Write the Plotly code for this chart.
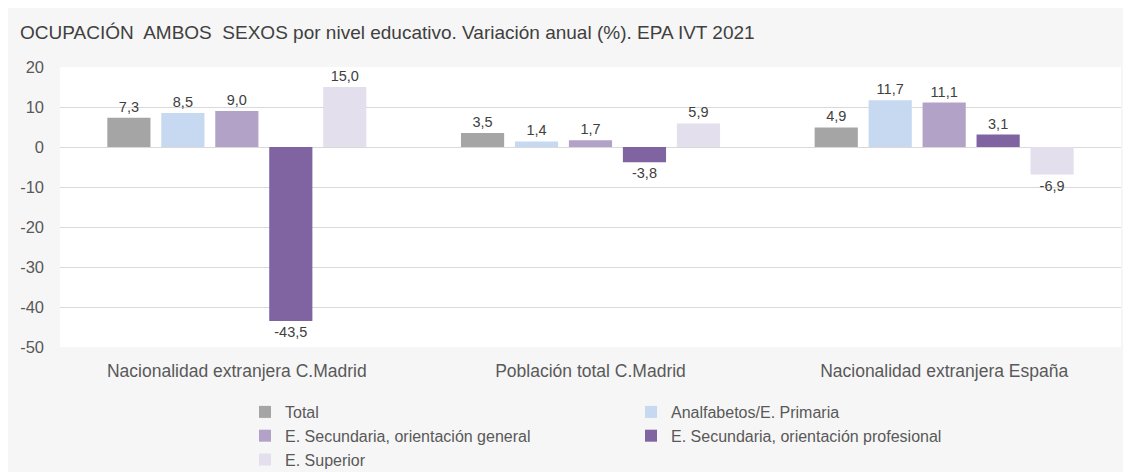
import plotly.graph_objects as go

categories = ["Nacionalidad extranjera C.Madrid", "Población total C.Madrid", "Nacionalidad extranjera España"]
series_names = ["Total", "Analfabetos/E. Primaria", "E. Secundaria, orientación general",
                "E. Secundaria, orientación profesional", "E. Superior"]
total = [7.3, 3.5, 4.9]
analfabetos = [8.5, 1.4, 11.7]
sec_general = [9.0, 1.7, 11.1]
sec_profesional = [-43.5, -3.8, 3.1]
superior = [15.0, 5.9, -6.9]
series_values = [total, analfabetos, sec_general, sec_profesional, superior]
colors = ["#a5a5a5", "#c6d9f1", "#b3a2c7", "#8064a2", "#e4dfec"]
y_tickvals = [20, 10, 0, -10, -20, -30, -40, -50]
y_ticktext = ["20", "10", "0", "-10", "-20", "-30", "-40", "-50"]

# page body has an 8px default margin, so the figure is sized to fill the rest
W, H = 1123, 464
ML, MR, MT, MB = 52, 10, 59, 125
pw = W - ML - MR
ph = H - MT - MB
FONT = "Liberation Sans, Arial, sans-serif"

fig = go.Figure()
for name, vals, col in zip(series_names, series_values, colors):
    fig.add_trace(go.Bar(
        name=name, x=categories, y=vals, marker_color=col, marker_line_width=0,
        text=[f"{v:.1f}".replace(".", ",") for v in vals],
        textposition="outside", cliponaxis=False,
        textfont=dict(size=14.5, color="#404040", family=FONT),
    ))

fig.update_layout(
    width=W, height=H,
    margin=dict(l=ML, r=MR, t=MT, b=MB, autoexpand=False),
    paper_bgcolor="#f6f6f6", plot_bgcolor="white",
    barmode="group", bargap=0.237, bargroupgap=0.2,
    font=dict(family=FONT, color="#595959", size=16),
    title=dict(text="OCUPACIÓN  AMBOS  SEXOS por nivel educativo. Variación anual (%). EPA IVT 2021",
               x=12 / W, xanchor="left", xref="container",
               y=1 - 24 / H, yanchor="middle", yref="container",
               font=dict(size=19, color="#404040", family=FONT)),
    showlegend=True,
    legend=dict(orientation="h", x=(237 - ML) / pw, xanchor="left",
                y=(MT + ph - 387) / ph, yanchor="top",
                entrywidth=341, entrywidthmode="pixels",
                font=dict(size=16, color="#595959", family=FONT), bgcolor="rgba(0,0,0,0)",
                traceorder="normal"),
)
fig.update_xaxes(showgrid=False, showline=False, ticks="", ticklabelstandoff=11,
                 tickfont=dict(size=17.5, color="#595959", family=FONT))
fig.update_yaxes(range=[-50, 20], tickvals=y_tickvals, ticktext=y_ticktext,
                 showgrid=True, gridcolor="#d9d9d9", gridwidth=1,
                 zeroline=True, zerolinecolor="#d9d9d9", zerolinewidth=1,
                 showline=False, ticks="", ticklabelstandoff=15,
                 tickfont=dict(size=16.5, color="#595959", family=FONT))

fig.write_html("out.html")
